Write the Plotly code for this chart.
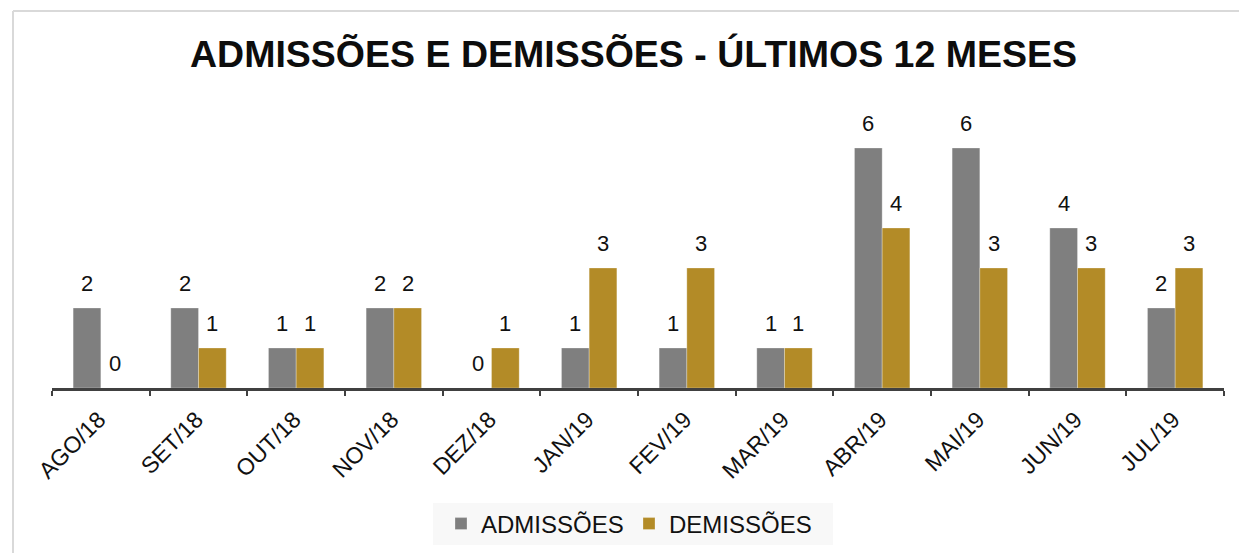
import plotly.graph_objects as go

W, H = 1239, 553

months = ["AGO/18", "SET/18", "OUT/18", "NOV/18", "DEZ/18", "JAN/19",
          "FEV/19", "MAR/19", "ABR/19", "MAI/19", "JUN/19", "JUL/19"]
admissoes = [2, 2, 1, 2, 0, 1, 1, 1, 6, 6, 4, 2]
demissoes = [0, 1, 1, 2, 1, 3, 3, 1, 4, 3, 3, 3]

title_text = "ADMISSÕES E DEMISSÕES - ÚLTIMOS 12 MESES"
name_adm = "ADMISSÕES"
name_dem = "DEMISSÕES"

C_ADM = "#7f7f7f"
C_DEM = "#b38b27"
FONT = "Liberation Sans, Arial, sans-serif"

def px(x):
    return x / W

def py(y):
    return 1 - y / H

fig = go.Figure()
fig.add_trace(go.Bar(x=months, y=admissoes, name=name_adm,
                     marker=dict(color=C_ADM, line=dict(width=0.8, color="rgba(255,255,255,0.35)"))))
fig.add_trace(go.Bar(x=months, y=demissoes, name=name_dem,
                     marker=dict(color=C_DEM, line=dict(width=0.8, color="rgba(255,255,255,0.35)"))))

# value labels
half = 13.85
annots = []
for m, v in zip(months, admissoes):
    annots.append(dict(x=m, y=v, xref="x", yref="y", text=str(v), showarrow=False,
                       xshift=-half, yanchor="bottom", yshift=10,
                       font=dict(family=FONT, size=22, color="#111111")))
for m, v in zip(months, demissoes):
    annots.append(dict(x=m, y=v, xref="x", yref="y", text=str(v), showarrow=False,
                       xshift=half, yanchor="bottom", yshift=10,
                       font=dict(family=FONT, size=22, color="#111111")))

shapes = [
    # outer chart border (top and left edges; chart is cropped at right/bottom)
    dict(type="line", xref="paper", yref="paper", x0=px(13), y0=py(11), x1=px(1260), y1=py(11),
         line=dict(color="#d9d9d9", width=2), layer="below"),
    dict(type="line", xref="paper", yref="paper", x0=px(13), y0=py(11), x1=px(13), y1=py(580),
         line=dict(color="#d9d9d9", width=2), layer="below"),
    # legend box
    dict(type="rect", xref="paper", yref="paper", x0=px(433), y0=py(545), x1=px(833), y1=py(503),
         line=dict(width=0), fillcolor="#f8f8f8", layer="below"),
]

fig.update_layout(
    width=W, height=H,
    margin=dict(l=0, r=0, t=0, b=0, autoexpand=False),
    paper_bgcolor="white", plot_bgcolor="rgba(0,0,0,0)",
    barmode="group", bargap=0.433, bargroupgap=0,
    title=dict(text=title_text, x=px(633.5), xanchor="center", xref="paper",
               y=py(54), yanchor="middle", yref="container",
               font=dict(family=FONT, size=37.5, color="#0d0d0d", weight="bold")),
    xaxis=dict(domain=[px(52), px(1224)], type="category", automargin=False,
               showline=True, linecolor="#404040", linewidth=3,
               ticks="outside", tickson="boundaries", ticklen=5, tickwidth=2, tickcolor="#404040",
               tickangle=-45, tickfont=dict(family=FONT, size=23, color="#111111"),
               ticklabelstandoff=6, ticklabelshift=-2,
               showgrid=False, zeroline=False),
    yaxis=dict(domain=[py(388), py(108)], range=[0, 7], visible=False, automargin=False,
               showgrid=False, zeroline=False),
    legend=dict(orientation="h", x=px(441), xanchor="left", y=py(524), yanchor="middle",
                bgcolor="rgba(0,0,0,0)", font=dict(family=FONT, size=24, color="#111111"),
                entrywidth=143, itemclick=False),
    annotations=annots,
    shapes=shapes,
    showlegend=True,
)

fig.write_html("out.html", config={"displayModeBar": False},
               post_script="document.body.style.margin='0';document.body.style.overflow='hidden';")
